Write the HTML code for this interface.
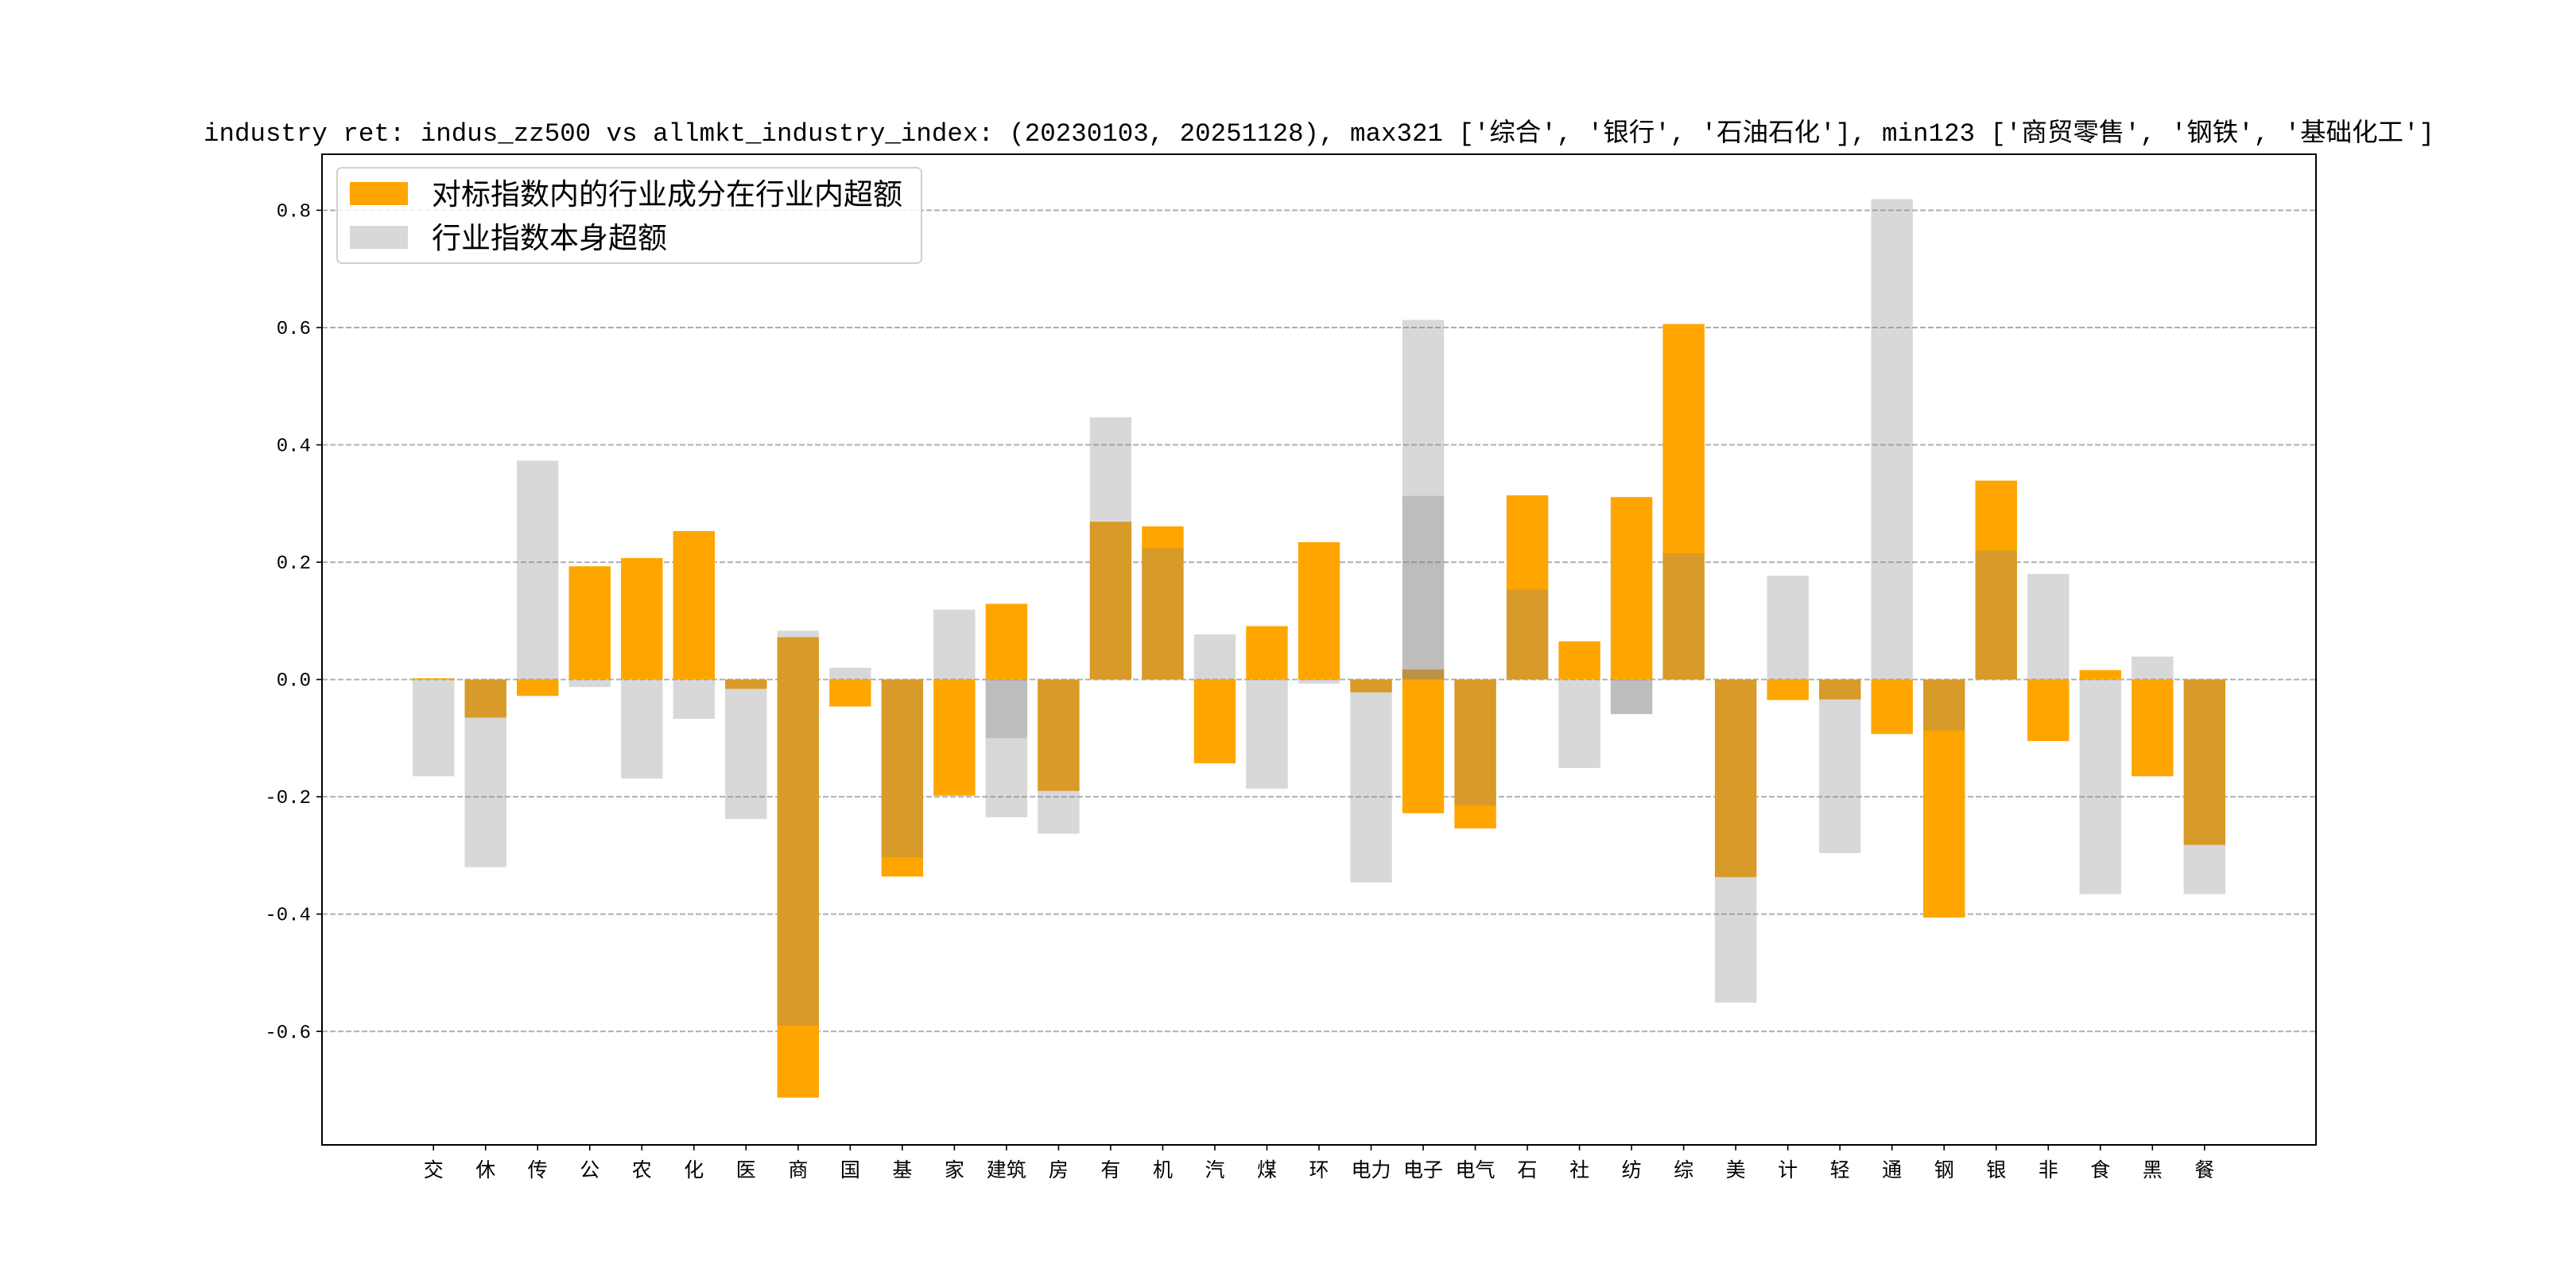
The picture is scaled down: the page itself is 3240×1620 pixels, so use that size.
<!DOCTYPE html>
<html><head><meta charset="utf-8"><style>
html,body{margin:0;padding:0;background:#fff;}
svg{display:block;}
text{font-family:"Liberation Mono","Noto Sans CJK SC",monospace;fill:#000;}
</style></head><body>
<svg id="chart" width="3240" height="1620" viewBox="0 0 3240 1620" xmlns="http://www.w3.org/2000/svg">
<rect width="3240" height="1620" fill="#fff"/>
<text x="256" y="177" font-size="32" textLength="2806" lengthAdjust="spacingAndGlyphs">industry ret: indus_zz500 vs allmkt_industry_index: (20230103, 20251128), max321 ['综合', '银行', '石油石化'], min123 ['商贸零售', '钢铁', '基础化工']</text>
<g id="grid"></g>
<g id="bars"></g>
<g id="axes"></g>
<g>
<rect x="424" y="211" width="735" height="120" rx="6" fill="#fff" fill-opacity="0.8" stroke="#d0d0d0" stroke-width="2"/>
<rect x="440" y="229" width="73" height="29" fill="#ffa500"/>
<text x="543" y="257" font-size="37">对标指数内的行业成分在行业内超额</text>
<rect x="440" y="284" width="73" height="29" fill="#d8d8d8"/>
<text x="543" y="312" font-size="37">行业指数本身超额</text>
</g>
</svg>
<script>
const categories=["交","休","传","公","农","化","医","商","国","基","家","建筑","房","有","机","汽","煤","环","电力","电子","电气","石","社","纺","综","美","计","轻","通","钢","银","非","食","黑","餐"];
const orangeVals=[0.002,-0.065,-0.028,0.193,0.207,0.253,-0.016,0.072,-0.046,-0.336,-0.198,0.129,-0.19,0.269,0.261,-0.143,0.091,0.234,-0.022,0.017,-0.254,0.314,0.065,0.311,0.606,-0.337,-0.035,-0.034,-0.093,-0.406,0.339,-0.105,0.016,-0.165,-0.282];
const orangeVals2=[null,null,null,null,null,null,null,-0.713,null,null,null,null,null,null,null,null,null,null,null,-0.228,null,null,null,null,null,null,null,null,null,null,null,null,null,null,null];
const grayVals=[-0.165,-0.320,0.373,-0.013,-0.169,-0.067,-0.238,0.083,0.020,-0.303,0.119,-0.235,-0.263,0.447,0.224,0.077,-0.186,-0.007,-0.346,0.613,-0.215,0.153,-0.151,-0.059,0.215,-0.551,0.177,-0.296,0.819,-0.087,0.220,0.180,-0.366,0.039,-0.366];
const grayVals2=[null,null,null,null,null,null,null,-0.590,null,null,null,-0.100,null,null,null,null,null,null,null,0.313,null,null,null,-0.059,null,null,null,null,null,null,null,null,null,null,null];
const yTicks=[-0.6,-0.4,-0.2,0.0,0.2,0.4,0.6,0.8];
const yTickLabels=["-0.6","-0.4","-0.2","0.0","0.2","0.4","0.6","0.8"];

const L=405,R=2913,T=194,B=1440;
const xmin=-2.14,xmax=categories.length-1+2.14;
const ymin=-0.7935,ymax=0.8955;
const xs=v=>L+(v-xmin)/(xmax-xmin)*(R-L);
const ys=v=>B-(v-ymin)/(ymax-ymin)*(B-T);
const NS="http://www.w3.org/2000/svg";
function mk(tag,attrs,parent){const e=document.createElementNS(NS,tag);for(const k in attrs)e.setAttribute(k,attrs[k]);parent.appendChild(e);return e;}
const grid=document.getElementById('grid'),bars=document.getElementById('bars'),axes=document.getElementById('axes');
const bw=(xs(0.8)-xs(0));
yTicks.forEach((t,i)=>{
  const y=ys(t);
  const g=mk('line',{x1:L,x2:R,y1:y,y2:y,stroke:'#b0b0b0','stroke-width':2,'stroke-dasharray':'7,3'},grid);
  
  
  const tk=mk('line',{x1:L-7,x2:L,y1:y,y2:y,stroke:'#000','stroke-width':1.6},axes);
  
  
  const tx=mk('text',{x:L-14,y:y+8,'font-size':24,'text-anchor':'end'},axes);
  tx.textContent=yTickLabels[i];
  
  
});
function bar(i,v,fill,op,name){
  if(v===null)return;
  const x=xs(i)-bw/2,y0=ys(0),y1=ys(v);
  const r=mk('rect',{x:x,y:Math.min(y0,y1),width:bw,height:Math.abs(y1-y0),fill:fill,'fill-opacity':op},bars);
  
  
}
categories.forEach((c,i)=>{bar(i,orangeVals[i],'#ffa500',1,'bar-orange-'+i);bar(i,orangeVals2[i],'#ffa500',1,'bar-orange2-'+i);});
categories.forEach((c,i)=>{bar(i,grayVals[i],'#818181',0.31,'bar-gray-'+i);bar(i,grayVals2[i],'#818181',0.31,'bar-gray2-'+i);});
categories.forEach((c,i)=>{
  const x=xs(i);
  const tk=mk('line',{x1:x,x2:x,y1:B,y2:B+7,stroke:'#000','stroke-width':1.6},axes);
  
  
  const tx=mk('text',{x:x,y:B+40,'font-size':25,'text-anchor':'middle'},axes);
  tx.textContent=c;
  
  
});
const fr=mk('rect',{x:L,y:T,width:R-L,height:B-T,fill:'none',stroke:'#000','stroke-width':2},axes);


</script>
</body></html>
